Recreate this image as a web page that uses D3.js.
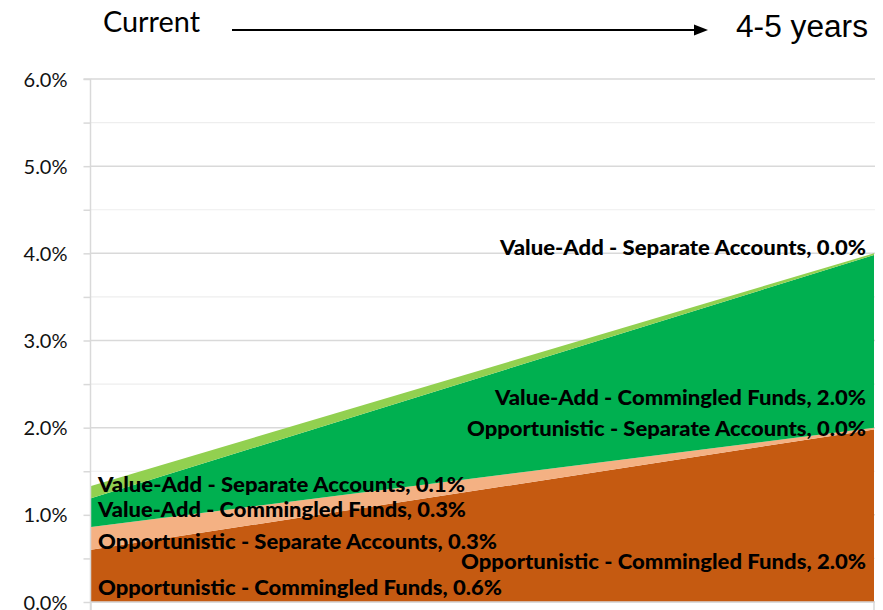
<!DOCTYPE html>
<html><head><meta charset="utf-8">
<script src="https://cdn.jsdelivr.net/npm/d3@7"></script>
<style>body{margin:0;background:#fff}</style>
</head><body>
<svg id="c" width="883" height="610"></svg>
<script>
const periods = ["Current", "4-5 years"];
const seriesNames = [
  "Opportunistic - Commingled Funds",
  "Opportunistic - Separate Accounts",
  "Value-Add - Commingled Funds",
  "Value-Add - Separate Accounts"
];
const oppCommingled = [0.60, 1.98];
const oppSeparate   = [0.26, 0.02];
const vaCommingled  = [0.33, 1.98];
const vaSeparate    = [0.14, 0.02];
const yTicks = [0, 1, 2, 3, 4, 5, 6];
const colors = ["#C55A11", "#F4B183", "#00B050", "#92D050"];

const svg = d3.select("#c");
const W = 883, H = 610;
const x0 = 91, x1 = 874, yTop = 79, yBot = 602;
const x = d3.scalePoint().domain(periods).range([x0, x1]);
const y = d3.scaleLinear().domain([0, 6]).range([yBot, yTop]);

const rows = periods.map((p, i) => ({
  period: p,
  s0: oppCommingled[i], s1: oppSeparate[i], s2: vaCommingled[i], s3: vaSeparate[i]
}));
const stack = d3.stack().keys(["s0", "s1", "s2", "s3"]);
const layers = stack(rows);

// minor gridlines
const minor = d3.range(0.5, 6, 1);
svg.append("g").selectAll("line").data(minor).join("line")
  .attr("x1", x0).attr("x2", x1 + 1).attr("y1", d => y(d)).attr("y2", d => y(d))
  .attr("stroke", "#eeeeee").attr("stroke-width", 1.2);
svg.append("g").selectAll("line").data(yTicks).join("line")
  .attr("x1", x0).attr("x2", x1 + 1).attr("y1", d => y(d)).attr("y2", d => y(d))
  .attr("stroke", "#d9d9d9").attr("stroke-width", 1.5);

// areas
const area = d3.area().x((d, i) => x(periods[i])).y0(d => y(d[0])).y1(d => y(d[1]));
svg.append("g").selectAll("path").data(layers).join("path")
  .attr("d", area).attr("fill", (d, i) => colors[i]);

// y axis
const yAxis = d3.axisLeft(y).tickValues(d3.range(0, 6.01, 0.5)).tickSize(7)
  .tickFormat(d => Number.isInteger(d) ? d3.format(".1f")(d) + "%" : "");
const ga = svg.append("g").attr("transform", `translate(${x0 - 0.5},0)`).call(yAxis);
ga.select(".domain").attr("stroke", "#d9d9d9").attr("stroke-width", 1.5).attr("d", `M-7,${yTop}H0V${H}`);
ga.selectAll(".tick line").attr("stroke", "#d9d9d9").attr("stroke-width", 1.5);
ga.selectAll(".tick text").attr("x", -23).attr("fill", "#111").attr("font-size", 20)
  .attr("font-family", "Lato, 'Open Sans', sans-serif").attr("dy", "0.35em");

// x axis ticks (downwards)
svg.append("g").selectAll("line").data(periods).join("line")
  .attr("x1", d => x(d)).attr("x2", d => x(d)).attr("y1", yBot).attr("y2", H)
  .attr("stroke", "#d9d9d9").attr("stroke-width", 1.5);
svg.append("line").attr("x1", x0).attr("x2", x1 + 1).attr("y1", yBot).attr("y2", yBot)
  .attr("stroke", "#d9d9d9").attr("stroke-width", 1.5);

// data labels
const fmt = d3.format(".1f");
const font = "Lato, 'Open Sans', sans-serif";
const leftY = [588, 542, 510, 485];
const rightY = [562, 429, 398, 248];
const leftW = [404, 399, 368, 367];
const rightW = [405, 399, 371, 366];
const lab = svg.append("g").attr("font-family", font).attr("font-weight", 900)
  .attr("font-size", 21).attr("fill", "#000");
layers.forEach((L, k) => {
  const vals = [oppCommingled, oppSeparate, vaCommingled, vaSeparate][k];
  lab.append("text").attr("x", x0 + 7).attr("y", leftY[k]).attr("dy", "0.35em")
    .attr("textLength", leftW[k]).attr("lengthAdjust", "spacingAndGlyphs")
    .text(`${seriesNames[k]}, ${fmt(vals[0])}%`);
  lab.append("text").attr("x", x1 - 8).attr("y", rightY[k]).attr("dy", "0.35em")
    .attr("text-anchor", "end")
    .attr("textLength", rightW[k]).attr("lengthAdjust", "spacingAndGlyphs")
    .text(`${seriesNames[k]}, ${fmt(vals[1])}%`);
});

// header
svg.append("text").attr("x", 103).attr("y", 32).attr("font-family", "Lato, 'Open Sans', sans-serif").attr("font-size", 28)
  .attr("textLength", 97).attr("lengthAdjust", "spacingAndGlyphs").attr("fill", "#000").text(periods[0]);
svg.append("text").attr("x", 736).attr("y", 37).attr("font-family", "'Liberation Sans', Arial, sans-serif").attr("font-size", 31)
  .attr("textLength", 132).attr("lengthAdjust", "spacingAndGlyphs").attr("fill", "#000").text(periods[1]);
svg.append("line").attr("x1", 232).attr("x2", 694).attr("y1", 30).attr("y2", 30)
  .attr("stroke", "#000").attr("stroke-width", 2);
svg.append("path").attr("d", d3.line()([[694, 24.5], [708, 30], [694, 35.5]]) + "Z").attr("fill", "#000");
</script>
</body></html>
